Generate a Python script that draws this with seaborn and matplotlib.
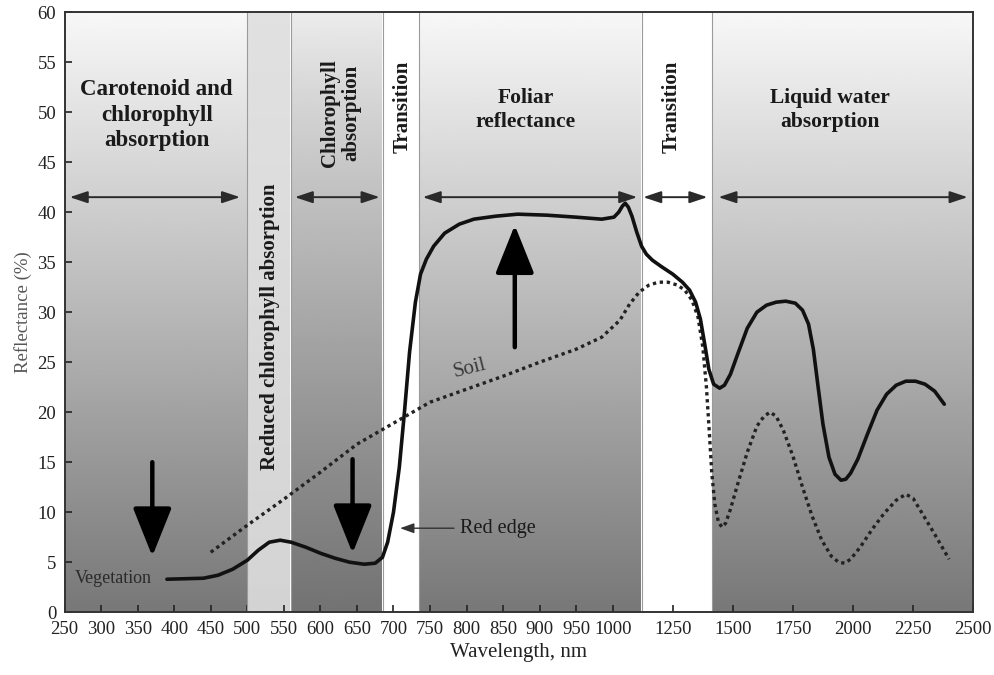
import numpy as np
import matplotlib
matplotlib.use("Agg")
import matplotlib.pyplot as plt
from matplotlib.colors import LinearSegmentedColormap
import seaborn as sns

# vegetation reflectance curve (nm, %)
veg_nm = [390, 440, 460, 480, 500, 515, 530, 545, 560, 580, 600, 620, 640, 660,
          675, 685, 692, 700, 708, 715, 722, 730, 737, 745, 755, 770, 790, 810,
          840, 870, 910, 950, 985, 1005, 1025, 1040, 1052, 1065, 1080, 1100, 1120,
          1140, 1165, 1200, 1250, 1290, 1320, 1345, 1365, 1385, 1400, 1420, 1445,
          1465, 1490, 1520, 1560, 1600, 1640, 1680, 1720, 1760, 1790, 1815, 1835,
          1855, 1875, 1900, 1925, 1950, 1970, 1990, 2020, 2060, 2100, 2140, 2180,
          2220, 2260, 2300, 2340, 2380]
veg_val = [3.3, 3.4, 3.7, 4.3, 5.2, 6.2, 7.0, 7.2, 7.0, 6.5, 5.9, 5.4, 5.0, 4.8,
           4.9, 5.5, 7.0, 10.0, 14.5, 20.0, 26.0, 31.0, 33.8, 35.3, 36.6, 37.9,
           38.8, 39.3, 39.6, 39.8, 39.7, 39.5, 39.3, 39.5, 40.0, 40.6, 40.9, 40.5,
           39.6, 38.0, 36.6, 35.8, 35.2, 34.6, 33.8, 33.0, 32.2, 31.0, 29.3, 26.5,
           24.3, 22.8, 22.4, 22.7, 23.8, 25.8, 28.4, 30.0, 30.7, 31.0, 31.1, 30.9,
           30.2, 28.8, 26.3, 22.5, 18.8, 15.5, 13.8, 13.2, 13.3, 13.9, 15.3, 17.8,
           20.2, 21.8, 22.7, 23.1, 23.1, 22.8, 22.1, 20.8]

# soil reflectance curve
soil_nm = [450, 500, 550, 600, 650, 700, 750, 800, 850, 900, 950, 985, 1030, 1070,
           1110, 1150, 1190, 1230, 1270, 1300, 1330, 1355, 1375, 1390, 1402, 1412,
           1425, 1440, 1455, 1470, 1490, 1520, 1560, 1600, 1630, 1655, 1680, 1710,
           1750, 1790, 1830, 1870, 1910, 1940, 1965, 1990, 2030, 2080, 2130, 2180,
           2220, 2250, 2290, 2340, 2400]
soil_val = [6.0, 8.7, 11.3, 14.0, 16.8, 18.9, 21.0, 22.3, 23.6, 25.0, 26.3, 27.5,
            29.2, 30.8, 32.0, 32.7, 33.0, 33.0, 32.7, 32.2, 31.2, 29.5, 26.5, 22.5,
            18.0, 14.0, 10.8, 9.0, 8.5, 8.9, 10.3, 12.8, 16.0, 18.6, 19.6, 20.0,
            19.6, 18.2, 15.6, 12.5, 9.6, 7.2, 5.6, 5.0, 4.9, 5.3, 6.5, 8.3, 9.9,
            11.2, 11.8, 11.4, 9.8, 7.8, 5.3]

# spectral regions
band_edges = [250, 500, 560, 685, 735, 1120, 1415, 2500]
band_kind = ["grad", "light", "dark", "white", "grad", "white", "grad"]

region_labels = ["Carotenoid and\nchlorophyll\nabsorption", "Reduced chlorophyll absorption",
                 "Chlorophyll\nabsorption", "Transition", "Foliar\nreflectance",
                 "Transition", "Liquid water\nabsorption"]
region_x = [376, 531, 628, 713, 881, 1244, 1906]
region_y = [49.7, 28.5, 49.9, 50.5, 50.2, 50.5, 50.2]
region_rot = [0, 90, 90, 90, 0, 90, 0]

span_from = [257, 565, 740, 1127, 1440]
span_to = [490, 681, 1102, 1394, 2477]

xticks = list(range(250, 1001, 50)) + [1250, 1500, 1750, 2000, 2250, 2500]

K = 0.24 / 0.73


def fwd(x):
    x = np.asarray(x, dtype=float)
    return np.where(x <= 1000, x, 1000 + (x - 1000) * K)


def inv(u):
    u = np.asarray(u, dtype=float)
    return np.where(u <= 1000, u, 1000 + (u - 1000) / K)


sns.set_style("ticks")
plt.rcParams['font.family'] = ['Liberation Serif', 'DejaVu Serif']

fig, ax = plt.subplots(figsize=(9.94, 6.75), dpi=100)
fig.subplots_adjust(left=0.065, right=0.979, bottom=0.093, top=0.982)
ax.set_xscale("function", functions=(fwd, inv))
ax.set_xlim(250, 2500)
ax.set_ylim(0, 60)

grey = LinearSegmentedColormap.from_list("g", ["black", "white"])
t = np.linspace(0, 1, 256)[:, None]
shades = {
    "grad": 0.97 - 0.50 * t,
    "dark": 0.93 - 0.48 * t ** 0.85,
    "light": 0.88 - 0.05 * t,
    "white": np.ones_like(t),
}
for i, kind in enumerate(band_kind):
    ax.imshow(shades[kind], cmap=grey, vmin=0, vmax=1, aspect="auto",
              extent=(band_edges[i], band_edges[i + 1], 0, 60), origin="upper",
              interpolation="bilinear", zorder=0)
for e in band_edges[1:-1]:
    ax.axvline(e, color="#9a9a9a", lw=0.8, zorder=1)

sns.lineplot(x=veg_nm, y=veg_val, ax=ax, color="#111111", lw=2.6, zorder=4)
sns.lineplot(x=soil_nm, y=soil_val, ax=ax, color="#222222", lw=2.4,
             linestyle=(0, (1, 1.1)), zorder=3)

for lab, x, y, r in zip(region_labels, region_x, region_y, region_rot):
    fs = 16.5 if r == 0 else 15
    ls = 1.3 if r == 0 else 1.05
    if lab.startswith("Foliar") or lab.startswith("Liquid"):
        fs, ls = 15.5, 1.3
    ax.text(x, y, lab, rotation=r, ha="center", va="center", fontsize=fs,
            fontweight="bold", color="#1a1a1a", linespacing=ls, zorder=5)

for a, b in zip(span_from, span_to):
    ax.annotate("", xy=(b, 41.5), xytext=(a, 41.5),
                arrowprops=dict(arrowstyle="<|-|>,head_length=0.9,head_width=0.3",
                                mutation_scale=12, lw=1.4, color="#2a2a2a",
                                shrinkA=0, shrinkB=0), zorder=5)

big = dict(arrowstyle="-|>,head_length=1.5,head_width=0.6", mutation_scale=20,
           lw=3.2, color="black", shrinkA=0, shrinkB=0)
ax.annotate("", xy=(370, 5.6), xytext=(370, 15.0), arrowprops=big, zorder=6)
ax.annotate("", xy=(644, 5.9), xytext=(644, 15.3), arrowprops=big, zorder=6)
ax.annotate("", xy=(866, 38.7), xytext=(866, 26.5), arrowprops=big, zorder=6)

ax.annotate("Red edge", xy=(709, 8.4), xytext=(791, 8.4), ha="left", va="center",
            fontsize=14.5, color="#1a1a1a",
            arrowprops=dict(arrowstyle="-|>,head_length=0.7,head_width=0.25",
                            mutation_scale=12, lw=1.0, color="#333333",
                            shrinkA=2, shrinkB=0), zorder=6)
ax.text(805, 24.4, "Soil", rotation=14, ha="center", va="center", fontsize=15,
        color="#3a3a3a", zorder=6)
ax.text(316, 3.4, "Vegetation", ha="center", va="center", fontsize=13,
        color="#2a2a2a", zorder=6)

ax.set_xticks(xticks)
ax.set_xticklabels([str(v) for v in xticks])
ax.set_yticks(range(0, 61, 5))
ax.tick_params(direction="in", length=5, width=1.2, labelsize=13.5,
               colors="#222222", pad=6)
ax.minorticks_off()
for s in ax.spines.values():
    s.set_visible(True)
    s.set_linewidth(1.4)
    s.set_color("#333333")
ax.set_xlabel("Wavelength, nm", fontsize=15, color="#222222", labelpad=4)
ax.set_ylabel("Reflectance (%)", fontsize=13.5, color="#555555", labelpad=4)

fig.savefig("out.png", dpi=100)
